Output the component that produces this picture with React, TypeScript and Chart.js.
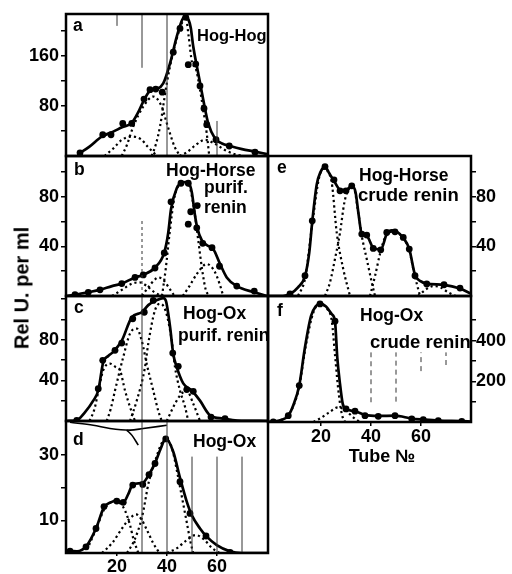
import React, { useEffect, useRef } from "react";
import { Chart, registerables } from "chart.js";
Chart.register(...registerables);

type Pt = [number, number];

// ---------------- DATA ----------------
// Panel a: Hog-Hog
const aCurve: Pt[] = [[4.5,3],[9,15],[13.9,31],[18.5,39],[22,46],[25.9,53],[28.5,70],[30.5,87],[33.2,104],[35.9,107],[38.5,116],[41.2,148],[43.9,191],[46,217],[47.4,224],[48.6,218],[49.5,205],[50.5,175],[52.5,132],[54.5,90],[56.5,52],[59.2,28],[62,20],[65.2,16],[70,11],[75.2,7],[80,3]];
const aDots: Pt[] = [[5.2,5],[14.3,34],[17.6,34],[22.3,52],[25.9,52],[30.8,91],[33.2,106],[35.5,107],[38.1,102],[42.5,166],[45.2,204],[47.5,222],[48.5,146],[51.5,147],[53.2,112],[54.8,76],[55.9,50],[59.6,26],[64.9,16],[75.2,6]];
const aPeak1: Pt[] = [[15,0],[18.5,12],[22,26],[25.9,31],[29.5,27],[32.5,14],[36,0]];
const aPeak2: Pt[] = [[21.9,0],[24,18],[26.5,47],[30.5,79],[34.5,95],[37.9,79],[39.5,58],[41.2,36],[43,15],[45.2,0]];
const aPeak3: Pt[] = [[33.9,0],[35.5,18],[37.2,47],[39.9,116],[42.5,166],[45.2,204],[47.5,222],[48.7,190],[50,150],[51.5,140],[53.2,106],[54.5,74],[55.9,36],[56.9,0]];
const aPeak4: Pt[] = [[45,0],[48,6],[51,16],[55.2,26],[59,20],[63,10],[67,3],[70.5,0]];
const aGuides: number[][] = [[20,208,227],[30,141,227],[40,0,227],[60,0,56]];
const aYTicks = [40, 80, 120, 160, 200];
const aYLabels = [80, 160];

// Panel b: Hog-Horse purif. renin
const bCurve: Pt[] = [[0,0],[3.2,1],[8.5,3],[13.2,5],[18,8],[21.9,10],[27.2,15],[30.5,17],[35.2,23],[38.9,35],[40.5,51],[41.6,70],[43.9,87],[45.6,91],[47.2,92],[48.5,91.5],[49.9,84],[51.2,65],[52.1,55],[53.9,45],[56,41],[58.5,38],[61.2,26],[63.9,15],[67.9,8],[74.9,3],[80,0]];
const bDots: Pt[] = [[3.2,1],[8.5,3],[13.2,5],[21.9,10],[27.2,15],[30.5,17],[35.2,22.6],[38.9,34.7],[41.6,76],[45.6,91],[48.5,91],[49.5,68],[48.5,58],[52.1,73],[51.9,55],[54.3,42.5],[58,39],[61,24],[67.9,8],[74.9,4]];
const bPeak1: Pt[] = [[18,0],[22,5],[26,10],[29,11],[32,8],[35,3],[38,0]];
const bPeak2: Pt[] = [[30,0],[32.5,7],[35,13],[36.5,15],[38.5,13],[41,6],[43,0]];
const bPeak3: Pt[] = [[38,0],[39.5,22],[41,50],[43,80],[45.6,91],[47.2,92],[48.5,91],[50,80],[51.2,65],[52.5,45],[54,22],[55.5,5],[57,0]];
const bPeak4: Pt[] = [[46.3,0],[49,8],[52,18],[55.9,25.8],[59,20],[61,10],[62.5,0]];
const bGuides: number[][] = [[30,0,62]];
const bYTicks = [20, 40, 60, 80, 100];
const bYLabels = [40, 80];

// Panel c: Hog-Ox purif renin
const cCurve: Pt[] = [[0,0],[3.9,0.7],[7,8],[10.5,20],[12.5,30],[14.5,58],[16.5,64],[18.5,68],[21.9,79],[25.9,102],[29.9,107],[32.5,114],[35.9,119],[38.5,121],[39.6,118],[41.2,93],[42.5,66],[43.9,53],[46.5,37],[49.9,30],[53.2,20],[57.2,5.6],[62.5,2.4],[68,0.5],[80,0]];
const cDots: Pt[] = [[3.9,0.7],[12.5,31.8],[14.3,59.7],[19.2,69.5],[21.9,76.7],[26.3,100.6],[30.9,107],[34.5,118.6],[42.3,66.8],[44.5,53.8],[47.9,30.9],[50.5,29.2],[57.6,3.9],[63.2,2.4]];
const cPeak1: Pt[] = [[9,0],[11,12],[13,35],[14.5,50],[17.2,56.4],[19.5,53],[21.2,49.8],[23.2,30],[25.2,13.8],[27.2,0]];
const cPeak2: Pt[] = [[15.9,0],[17.5,12],[19.2,30],[22.5,63],[25.2,86],[27.9,91],[29.9,79],[31.9,56],[34.5,30],[36.5,10],[37.9,0]];
const cPeak3: Pt[] = [[25.2,0],[27.9,20],[31.2,53],[32.5,76],[35.2,109],[37.2,115.4],[39.5,108],[41.9,79],[43.2,53],[45.2,30],[47.2,14],[48.5,0]];
const cPeak4: Pt[] = [[39.9,0],[43.2,17],[45.5,26],[47.9,30],[50.5,17],[53.2,0]];
const cGuides: number[][] = [[30,0,123]];
const cYTicks = [20, 40, 60, 80, 100, 120];
const cYLabels = [40, 80];

// Panel d: Hog-Ox
const dCurve: Pt[] = [[0,0.6],[1.2,0.6],[4,0.5],[7.6,2],[11.6,7.5],[14.8,14],[17.5,15.5],[19.9,16],[22.5,15.5],[24.5,18],[26.3,21],[30.3,21.5],[32.8,24],[35.2,27.5],[37.5,32],[39.5,35],[42.5,31],[45.2,23],[47.9,15.7],[49.9,11.6],[53.2,7.5],[55.9,5],[59.9,2.4],[65.2,0.5],[70,0],[80,0]];
const dDots: Pt[] = [[1.2,0.6],[7.6,1.9],[11.6,7.5],[14.8,14.2],[19.9,15.9],[22.5,15.5],[26.3,20.8],[30.3,21],[32.8,24],[35.2,27.4],[39.5,34.9],[45.2,21.8],[49.2,12.1],[55.6,5.2],[65.2,0.2]];
const dPeak1: Pt[] = [[8,1],[12,8],[15,13.5],[19,15.8],[21.5,15],[23.2,13],[25.2,8.6],[26.5,4.5],[28.5,0]];
const dPeak2: Pt[] = [[14,0],[18,3],[22,7.5],[25,10.5],[27.7,11.8],[30,10],[32,7],[34.5,3],[37,0]];
const dPeak3: Pt[] = [[24,0],[27,4],[30,11],[32.8,22],[35.2,28],[37.5,33],[39.5,35],[42,32],[44,25],[46,17],[48,9],[49.5,3],[50.5,0]];
const dPeak4: Pt[] = [[40,0],[44,1.5],[48,4],[51.5,5.5],[55,4],[58,1.5],[61,0]];
const dScribble: Pt[] = [[1.2,40],[10.5,39.1],[17.2,38.1],[25.2,37.6],[30.5,38.1],[39.9,39.1]];
const dScribbleBranch: Pt[] = [[23.9,37.6],[26,36],[28.5,33]];
const dGuides: number[][] = [[30,0,40.4],[40,0,40.4],[50,0,29.5],[60,0,29.5],[70,0,29.5]];
const dYTicks = [10, 20, 30];
const dYLabels = [10, 30];

// Panel e: Hog-Horse crude renin
const eCurve: Pt[] = [[0,0],[6,0],[8.8,1.6],[12,7],[14.8,16],[16.5,35],[17.7,60],[19.5,90],[21,100],[22.8,104.5],[24.5,99],[26.4,93],[28.8,86],[31.2,85.5],[33.5,89],[35,84],[36.3,65],[37.5,50],[39.5,48.5],[42.1,39],[45.1,37.5],[47.5,50],[49.5,53],[51.5,52],[54.1,47],[56.5,38],[58.8,17],[61,12],[63.5,10],[70.4,9],[76.8,6],[81,2]];
const eDots: Pt[] = [[8.8,1.6],[14.8,16.4],[17.7,60.7],[22.8,104.5],[26.4,93.8],[28.8,84.9],[31.2,84.9],[33.5,88.9],[37.5,50],[39.5,49.2],[42.1,38.4],[45.1,37.3],[47.5,51.3],[50.8,51.8],[54.1,47.3],[56.5,37.9],[58.8,16.4],[63.5,9.7],[70.4,9.1],[76.8,6.4]];
const ePeak1: Pt[] = [[12,0],[14.8,14],[17.7,58],[20.5,96],[22.8,103],[24,100],[25.5,91.6],[27.5,51],[30.1,21.8],[32.8,0]];
const ePeak2: Pt[] = [[22.8,0],[24.8,11],[26.8,30],[28.8,51],[30.5,75],[32,85],[34.1,88],[36.1,67.5],[37.5,48.6],[39.5,29.8],[41.5,11],[42.8,0]];
const ePeak3: Pt[] = [[40.8,0],[42.8,16],[44.8,34],[47,48],[50.5,52],[54,47],[56.5,37],[58.5,18],[60.8,0]];
const ePeak4: Pt[] = [[60,0],[63,5],[66,8],[69,7],[72,3],[75,0]];
const eYTicks = [20, 40, 60, 80, 100];
const eYLabels = [40, 80];

// Panel f: Hog-Ox crude renin
const fCurve: Pt[] = [[-1.2,0],[0.9,2],[4,10],[6.9,31],[9,85],[11.3,179],[13.5,360],[16,520],[18,570],[19.6,582],[22,568],[24.3,530],[25.6,495],[26.5,318],[27.6,187],[28.7,89],[30,64],[33.6,53],[37.6,35],[43,30],[49.6,31],[56.3,17],[61,12],[67,7],[76.3,4],[80,2]];
const fDots: Pt[] = [[0.9,0],[6.9,31],[11.3,179],[19.6,580],[25.6,495],[30,64],[33.6,53],[37.6,31],[42.9,28],[49.6,31],[56.3,15],[60.9,12],[66.9,7],[76.3,3.5]];
const fPeak1: Pt[] = [[2,0],[6,25],[9,80],[11.3,175],[14,380],[17,540],[19.6,580],[22.5,555],[24.3,498],[25.6,330],[26.9,160],[28.3,40],[29.6,0]];
const fPeak2: Pt[] = [[17,0],[20,20],[23,45],[26.9,72],[30,55],[33,22],[35.6,0]];
const fGuides: number[][] = [[40,97,342],[50,100,342],[60,250,342],[70,280,342]];
const fYTicks = [100, 200, 300, 400, 500];
const fYLabels = [200, 400];

const xTickLabels = [20, 40, 60];

// ---------------- RENDERING ----------------
const FONT = "'Liberation Sans', Arial, Helvetica, sans-serif";

interface TextItem { t: string; x: number; y: number; s?: number; align?: CanvasTextAlign }
interface PanelSpec {
  frame: number[]; // left, top, right, bottom (page px)
  xRange: number[]; yRange: number[];
  yTicks: number[]; yLabels: number[]; yPos: "left" | "right";
  showX: boolean; padB: number; xTickLen: number;
  curve: Pt[]; dots: Pt[]; peaks: Pt[][];
  guides: number[][]; guideDash: number[]; extra: Pt[][];
  texts: TextItem[];
}

const panels: PanelSpec[] = [
  {
    frame: [66, 14, 268, 156], xRange: [-0.4, 80.4], yRange: [0, 227],
    yTicks: aYTicks, yLabels: aYLabels, yPos: "left", showX: false, padB: 18, xTickLen: 0,
    curve: aCurve, dots: aDots, peaks: [aPeak1, aPeak2, aPeak3, aPeak4],
    guides: aGuides, guideDash: [], extra: [],
    texts: [{ t: "a", x: 73, y: 31 }, { t: "Hog-Hog", x: 197, y: 41, s: 16.5 }],
  },
  {
    frame: [66, 156, 268, 296], xRange: [-0.4, 80.4], yRange: [0, 113],
    yTicks: bYTicks, yLabels: bYLabels, yPos: "left", showX: false, padB: 18, xTickLen: 0,
    curve: bCurve, dots: bDots, peaks: [bPeak1, bPeak2, bPeak3, bPeak4],
    guides: bGuides, guideDash: [3, 3], extra: [],
    texts: [
      { t: "b", x: 74, y: 175 },
      { t: "Hog-Horse", x: 166, y: 176 },
      { t: "purif.", x: 204, y: 193 },
      { t: "renin", x: 204, y: 213 },
    ],
  },
  {
    frame: [66, 296, 268, 421], xRange: [-0.4, 80.4], yRange: [0, 123],
    yTicks: cYTicks, yLabels: cYLabels, yPos: "left", showX: false, padB: 18, xTickLen: 0,
    curve: cCurve, dots: cDots, peaks: [cPeak1, cPeak2, cPeak3, cPeak4],
    guides: cGuides, guideDash: [], extra: [],
    texts: [
      { t: "c", x: 74, y: 313 },
      { t: "Hog-Ox", x: 183, y: 319 },
      { t: "purif. renin", x: 178, y: 341 },
    ],
  },
  {
    frame: [66, 421, 268, 553], xRange: [-0.4, 80.4], yRange: [0, 40.4],
    yTicks: dYTicks, yLabels: dYLabels, yPos: "left", showX: true, padB: 21, xTickLen: 3,
    curve: dCurve, dots: dDots, peaks: [dPeak1, dPeak2, dPeak3, dPeak4],
    guides: dGuides, guideDash: [], extra: [dScribble, dScribbleBranch],
    texts: [{ t: "d", x: 73, y: 445 }, { t: "Hog-Ox", x: 193, y: 447 }],
  },
  {
    frame: [268, 156, 471, 296], xRange: [0, 81.2], yRange: [0, 113],
    yTicks: eYTicks, yLabels: eYLabels, yPos: "right", showX: false, padB: 18, xTickLen: 0,
    curve: eCurve, dots: eDots, peaks: [ePeak1, ePeak2, ePeak3, ePeak4],
    guides: [], guideDash: [], extra: [],
    texts: [
      { t: "e", x: 277, y: 173 },
      { t: "Hog-Horse", x: 359, y: 181 },
      { t: "crude renin", x: 358, y: 201, s: 18.5 },
    ],
  },
  {
    frame: [268, 296, 471, 422], xRange: [-1.2, 80], yRange: [0, 619],
    yTicks: fYTicks, yLabels: fYLabels, yPos: "right", showX: true, padB: 46, xTickLen: 4,
    curve: fCurve, dots: fDots, peaks: [fPeak1, fPeak2],
    guides: fGuides, guideDash: [5, 4], extra: [],
    texts: [
      { t: "f", x: 277, y: 316 },
      { t: "Hog-Ox", x: 360, y: 321 },
      { t: "crude renin", x: 370, y: 348, s: 18.5 },
      { t: "Tube \u2116", x: 382, y: 462, s: 18, align: "center" },
    ],
  },
];

const toXY = (p: Pt[]) => p.map(([x, y]) => ({ x, y }));

function Panel({ spec }: { spec: PanelSpec }) {
  const ref = useRef<HTMLCanvasElement | null>(null);
  const [fl, ft, fr, fb] = spec.frame;
  const padL = spec.yPos === "left" ? 46 : 14;
  const padR = spec.yPos === "right" ? 40 : 14;
  const padT = 18;
  const padB = spec.padB;
  const cl = fl - padL;
  const ct = ft - padT;
  const cw = fr - fl + padL + padR;
  const ch = fb - ft + padT + padB;
  const hasX = spec.showX;

  useEffect(() => {
    if (!ref.current) return;
    const framePlugin = {
      id: "frame",
      afterDatasetsDraw(chart: any) {
        const { ctx, chartArea: a } = chart;
        ctx.save();
        ctx.strokeStyle = "#000";
        ctx.lineWidth = 2.5;
        ctx.strokeRect(a.left, a.top, a.right - a.left, a.bottom - a.top);
        ctx.restore();
      },
    };
    const textPlugin = {
      id: "panelText",
      afterDraw(chart: any) {
        const ctx = chart.ctx;
        ctx.save();
        ctx.fillStyle = "#000";
        ctx.textBaseline = "alphabetic";
        for (const it of spec.texts) {
          ctx.font = `bold ${it.s ?? 17.5}px ${FONT}`;
          ctx.textAlign = it.align ?? "left";
          ctx.fillText(it.t, it.x - cl, it.y - ct);
        }
        ctx.restore();
      },
    };

    const datasets: any[] = [
      ...spec.guides.map(([x, y0, y1]) => ({
        data: [{ x, y: y0 }, { x, y: y1 }],
        borderColor: "#333", borderWidth: 1, borderDash: spec.guideDash,
        pointRadius: 0, tension: 0,
      })),
      ...spec.extra.map((p) => ({
        data: toXY(p), borderColor: "#000", borderWidth: 1.6,
        pointRadius: 0, cubicInterpolationMode: "monotone",
      })),
      ...spec.peaks.map((p) => ({
        data: toXY(p), borderColor: "#000", borderWidth: 2.2, borderDash: [2.2, 3],
        pointRadius: 0, cubicInterpolationMode: "monotone",
      })),
      {
        data: toXY(spec.curve), borderColor: "#000", borderWidth: 2.7,
        pointRadius: 0, cubicInterpolationMode: "monotone",
      },
      {
        data: toXY(spec.dots), showLine: false, pointRadius: 3.4,
        pointBackgroundColor: "#000", pointBorderColor: "#000", pointBorderWidth: 0,
      },
    ];

    const tickFont = { family: FONT, size: 18, weight: "bold" as const };
    const chart = new Chart(ref.current, {
      type: "line",
      data: { datasets },
      options: {
        animation: false,
        responsive: false,
        devicePixelRatio: 1,
        events: [],
        layout: {
          padding: {
            left: spec.yPos === "left" ? 0 : padL,
            right: spec.yPos === "right" ? 0 : padR,
            top: padT,
            bottom: 0,
          },
        },
        plugins: { legend: { display: false }, tooltip: { enabled: false } },
        scales: {
          x: {
            type: "linear",
            display: true,
            min: spec.xRange[0],
            max: spec.xRange[1],
            afterBuildTicks: (ax: any) => { ax.ticks = xTickLabels.map((v) => ({ value: v })); },
            afterFit: (s: any) => { s.height = padB; },
            border: { display: false },
            grid: { display: hasX, drawOnChartArea: false, drawTicks: hasX, tickLength: spec.xTickLen, color: "#000", lineWidth: 1.5 },
            ticks: { display: hasX, font: tickFont, color: "#000", padding: 0, maxRotation: 0, autoSkip: false, callback: (v: any) => String(v) },
          },
          y: {
            type: "linear",
            position: spec.yPos,
            min: spec.yRange[0],
            max: spec.yRange[1],
            afterBuildTicks: (ax: any) => { ax.ticks = spec.yTicks.map((v) => ({ value: v })); },
            afterFit: (s: any) => { s.width = spec.yPos === "left" ? padL : padR; },
            border: { display: false },
            grid: { display: true, drawOnChartArea: false, drawTicks: true, tickLength: 5, color: "#000", lineWidth: 1.5 },
            ticks: {
              font: tickFont, color: "#000", padding: spec.yPos === "left" ? 2 : 0, autoSkip: false,
              callback: (v: any) => (spec.yLabels.includes(Number(v)) ? String(v) : ""),
            },
          },
        },
      } as any,
      plugins: [framePlugin, textPlugin],
    });
    return () => chart.destroy();
  }, []);

  return (
    <canvas
      ref={ref}
      width={cw}
      height={ch}
      style={{ position: "absolute", left: cl, top: ct, width: cw, height: ch }}
    />
  );
}

export default function App() {
  return (
    <div style={{ position: "absolute", left: 0, top: 0, width: 512, height: 574, overflow: "hidden", background: "#fff" }}>
      {panels.map((p, i) => (
        <Panel key={i} spec={p} />
      ))}
      <div
        style={{
          position: "absolute", left: 22, top: 288,
          transform: "translate(-50%, -50%) rotate(-90deg)",
          whiteSpace: "nowrap", fontFamily: FONT, fontWeight: "bold", fontSize: 20, color: "#000",
          lineHeight: "23px",
        }}
      >
        Rel U. per ml
      </div>
    </div>
  );
}
